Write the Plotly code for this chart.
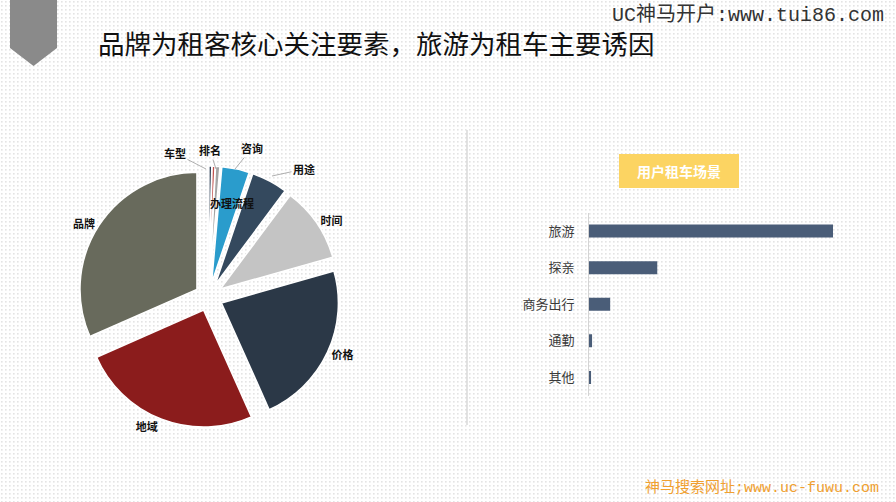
import base64
import plotly.graph_objects as go

# ---- data ----
pie_labels = ["车型", "排名", "办理流程", "咨询", "用途", "时间", "价格", "地域", "品牌"]
pie_values = [0.4, 0.4, 0.6, 3.8, 5.0, 10.4, 22.7, 25.1, 31.6]
pie_colors = ["#2e4057", "#c0504d", "#a5a5a5", "#2a9ccc", "#34495e",
              "#c4c4c4", "#2b3847", "#8b1c1c", "#686a5c"]

bar_categories = ["旅游", "探亲", "商务出行", "通勤", "其他"]
bar_values = [71.5, 20.0, 6.2, 0.9, 0.6]

title_text = "品牌为租客核心关注要素，旅游为租车主要诱因"
bar_title = "用户租车场景"
watermark_top = "UC神马开户:www.tui86.com"
watermark_bottom = "神马搜索网址;www.uc-fuwu.com"

W, H = 896, 502
def px(x):
    return x / W
def py(y):
    return 1 - y / H

CJK = "Noto Sans CJK SC, Noto Sans, sans-serif"
label_font = dict(family=CJK, size=11, color="#111111", weight="bold")

# labels of the tiny slices are drawn as callouts (text from pie_labels)
small = {"车型", "排名", "办理流程", "咨询", "用途"}
pie_text = ["" if l in small else l for l in pie_labels]

fig = go.Figure()

fig.add_trace(go.Pie(
    labels=pie_labels, values=pie_values, sort=False, direction="clockwise", rotation=0,
    marker=dict(colors=pie_colors, line=dict(color="#ffffff", width=1.5)),
    pull=[0.12] * len(pie_values),
    text=pie_text, textinfo="text", textposition="outside",
    outsidetextfont=label_font,
    domain=dict(x=[px(77.7), px(339.7)], y=[py(428), py(166)]),
    showlegend=False, hoverinfo="label+percent",
))

fig.add_trace(go.Bar(
    x=bar_values, y=bar_categories, orientation="h",
    marker=dict(color="#4a5d78", line=dict(width=0)),
    xaxis="x", yaxis="y", showlegend=False,
))

# subtle dotted background
svg = ('<svg xmlns="http://www.w3.org/2000/svg" width="896" height="502">'
       '<defs><pattern id="d" width="4" height="4" patternUnits="userSpaceOnUse">'
       '<rect width="4" height="4" fill="#ffffff"/><rect x="1" y="1" width="1.6" height="1.6" fill="#e4e4e4"/>'
       '</pattern></defs><rect width="896" height="502" fill="url(#d)"/></svg>')
bg_uri = "data:image/svg+xml;base64," + base64.b64encode(svg.encode()).decode()

callouts = [
    # label, tip(x,y), text center (x,y)
    ("车型", (206, 169), (175, 153)),
    ("排名", (216, 169), (210, 150)),
    ("咨询", (235, 169), (252, 148)),
    ("用途", (272, 176), (304, 169)),
]
annotations = [
    dict(text=title_text, xref="paper", yref="paper", x=px(96), y=py(42), xanchor="left", yanchor="middle",
         showarrow=False, font=dict(family=CJK, size=26.5, color="#111111")),
    dict(text=watermark_top, xref="paper", yref="paper", x=px(886), y=py(15), xanchor="right", yanchor="middle",
         showarrow=False, font=dict(family="Liberation Mono, Noto Sans CJK SC", size=20, color="#333333")),
    dict(text=watermark_bottom, xref="paper", yref="paper", x=px(881), y=py(488), xanchor="right", yanchor="middle",
         showarrow=False, font=dict(family="Liberation Mono, Noto Sans CJK SC", size=15, color="#f0a030")),
    dict(text=bar_title, xref="paper", yref="paper", x=px(679), y=py(171), xanchor="center", yanchor="middle",
         showarrow=False, font=dict(family=CJK, size=14, color="#ffffff", weight="bold")),
    dict(text=pie_labels[2], xref="paper", yref="paper", x=px(232), y=py(203), xanchor="center", yanchor="middle",
         showarrow=False, font=label_font),
]
for lab, tip, tc in callouts:
    annotations.append(dict(
        text=lab, xref="paper", yref="paper", x=px(tip[0]), y=py(tip[1]),
        ax=tc[0] - tip[0], ay=tc[1] - tip[1], showarrow=True, arrowhead=0, arrowwidth=0.8,
        arrowcolor="#9a9a9a", standoff=0, font=label_font))

fig.update_layout(
    width=W, height=H, margin=dict(l=0, r=0, t=0, b=0),
    paper_bgcolor="#ffffff", plot_bgcolor="rgba(0,0,0,0)",
    bargap=0.645,
    xaxis=dict(domain=[px(589), px(833)], range=[0, 71.5], visible=False, fixedrange=True),
    yaxis=dict(domain=[py(395.8), py(212.7)], autorange="reversed",
               showline=True, linecolor="#d4d4d4", linewidth=1,
               showgrid=False, zeroline=False, ticks="",
               ticklabelstandoff=11,
               tickfont=dict(family=CJK, size=13, color="#3a3a3a")),
    images=[dict(source=bg_uri, xref="paper", yref="paper", x=0, y=1, sizex=1, sizey=1,
                 xanchor="left", yanchor="top", sizing="stretch", layer="below")],
    shapes=[
        dict(type="path", xref="paper", yref="paper",
             path=f"M {px(10)} {py(0)} L {px(57)} {py(0)} L {px(57)} {py(48)} L {px(33.5)} {py(66)} L {px(10)} {py(48)} Z",
             fillcolor="#8a8a8a", line=dict(width=0)),
        dict(type="line", xref="paper", yref="paper", x0=px(467), x1=px(467), y0=py(130), y1=py(425),
             line=dict(color="#d0d0d0", width=1.2)),
        dict(type="rect", xref="paper", yref="paper", x0=px(619), x1=px(739), y0=py(188), y1=py(154),
             fillcolor="#fcd462", line=dict(width=0)),
    ],
    annotations=annotations,
)

fig.write_html("out.html", config={"displayModeBar": False},
               post_script="document.body.style.margin='0';document.body.style.overflow='hidden';")
